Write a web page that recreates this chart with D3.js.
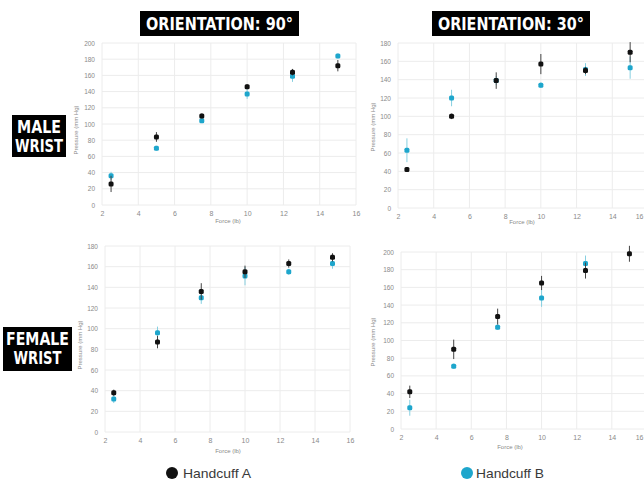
<!DOCTYPE html>
<html>
<head>
<meta charset="utf-8">
<script src="https://cdn.jsdelivr.net/npm/d3@7"></script>
<style>
  html, body { margin: 0; padding: 0; background: #fff; overflow: hidden; }
  svg { display: block; }
  .tick text { font-family: "Liberation Sans", Arial, sans-serif; fill: #8a8a8a; }
</style>
</head>
<body>
<svg id="chart" width="644" height="481"></svg>
<script>
// Applied force levels (lb)
const forces = [2.5, 5, 7.5, 10, 12.5, 15];

// Male wrist, orientation 90°
const male90A = [26, 84, 110, 146, 164, 172];
const male90AErr = [10, 6, 3, 3, 4, 7];
const male90B = [36, 70, 104, 137, 159, 184];
const male90BErr = [5, 3, 2, 6, 7, 3];

// Male wrist, orientation 30°
const male30A = [42, 100, 139, 157, 150, 170];
const male30AErr = [2, 3, 9, 11, 4, 11];
const male30B = [63, 120, 139, 134, 151, 153];
const male30BErr = [13, 9, 5, 3, 7, 12];

// Female wrist, orientation 90°
const female90A = [38, 87, 136, 155, 163, 169];
const female90AErr = [3, 6, 8, 6, 4, 4];
const female90B = [32, 96, 130, 151, 155, 163];
const female90BErr = [4, 6, 6, 9, 3, 5];

// Female wrist, orientation 30°
const female30A = [42, 90, 127, 165, 179, 198];
const female30AErr = [7, 11, 9, 8, 9, 9];
const female30B = [24, 71, 115, 148, 187, null];
const female30BErr = [9, 3, 3, 10, 9, null];

const xTicks = [2, 4, 6, 8, 10, 12, 14, 16];
const yTicks200 = [0, 20, 40, 60, 80, 100, 120, 140, 160, 180, 200];
const yTicks180 = [0, 20, 40, 60, 80, 100, 120, 140, 160, 180];

const columnTitles = ["ORIENTATION: 90°", "ORIENTATION: 30°"];
const rowTitles = [["MALE", "WRIST"], ["FEMALE", "WRIST"]];
const seriesNames = ["Handcuff A", "Handcuff B"];

const colorA = "#111111";
const colorB = "#1ea6cc";
const errA = "#444444";
const errB = "#86cfe0";

const W = 644;
const svg = d3.select("#chart");

const panels = [
  { x0: 102, x1: 356, y0: 205, y1: 43, yMax: 200, yTicks: yTicks200,
    a: male90A, aErr: male90AErr, b: male90B, bErr: male90BErr,
    xTitle: [228, 223], yTitle: [78, 130], yLabel: "Pressure (mm Hg)" },
  { x0: 398, x1: 648, y0: 208, y1: 43, yMax: 180, yTicks: yTicks180,
    a: male30A, aErr: male30AErr, b: male30B, bErr: male30BErr,
    xTitle: [522, 224], yTitle: [375, 127], yLabel: "Pressure (mm Hg)" },
  { x0: 105, x1: 350, y0: 432, y1: 246, yMax: 180, yTicks: yTicks180,
    a: female90A, aErr: female90AErr, b: female90B, bErr: female90BErr,
    xTitle: [228, 453], yTitle: [82, 345], yLabel: "Pressure (mm Hg)" },
  { x0: 401, x1: 647, y0: 429, y1: 252, yMax: 200, yTicks: yTicks200,
    a: female30A, aErr: female30AErr, b: female30B, bErr: female30BErr,
    xTitle: [510, 449], yTitle: [375, 342], yLabel: "Pressure (mm Hg)" }
];

panels.forEach(p => {
  const x = d3.scaleLinear().domain([2, 16]).range([p.x0, p.x1]);
  const y = d3.scaleLinear().domain([0, p.yMax]).range([p.y0, p.y1]);
  const g = svg.append("g");

  // gridlines
  g.append("g").selectAll("line").data(xTicks).join("line")
    .attr("x1", d => x(d)).attr("x2", d => x(d))
    .attr("y1", p.y0).attr("y2", p.y1)
    .attr("stroke", "#ececec").attr("stroke-width", 1);
  g.append("g").selectAll("line").data(p.yTicks).join("line")
    .attr("x1", p.x0).attr("x2", p.x1)
    .attr("y1", d => y(d)).attr("y2", d => y(d))
    .attr("stroke", "#ececec").attr("stroke-width", 1);

  // axes (labels only)
  const xAxis = g.append("g").attr("transform", `translate(0,${p.y0 + 4})`)
    .call(d3.axisBottom(x).tickValues(xTicks).tickSize(0).tickPadding(2));
  xAxis.select(".domain").remove();
  xAxis.selectAll("text").attr("font-size", 7);
  // keep a label that would run past the page edge inside it
  xAxis.selectAll(".tick").each(function (d) {
    if (x(d) + 5 > W) {
      d3.select(this).select("text")
        .attr("text-anchor", "end")
        .attr("x", W - 1 - x(d));
    }
  });

  const yAxis = g.append("g").attr("transform", `translate(${p.x0 - 5},0)`)
    .call(d3.axisLeft(y).tickValues(p.yTicks).tickSize(0).tickPadding(2));
  yAxis.select(".domain").remove();
  yAxis.selectAll("text").attr("font-size", 6.5);

  g.append("text")
    .attr("x", p.xTitle[0]).attr("y", p.xTitle[1])
    .attr("text-anchor", "middle")
    .attr("font-family", "Liberation Sans, Arial, sans-serif")
    .attr("font-size", 6).attr("fill", "#8a8a8a")
    .text("Force (lb)");
  g.append("text")
    .attr("transform", `translate(${p.yTitle[0]},${p.yTitle[1]}) rotate(-90)`)
    .attr("text-anchor", "middle")
    .attr("font-family", "Liberation Sans, Arial, sans-serif")
    .attr("font-size", 6).attr("fill", "#8a8a8a")
    .text(p.yLabel);

  // series: error bars and markers
  const series = [
    { v: p.b, e: p.bErr, c: colorB, ec: errB },
    { v: p.a, e: p.aErr, c: colorA, ec: errA }
  ];
  series.forEach(s => {
    const pts = forces.map((f, i) => ({ f, v: s.v[i], e: s.e[i] }))
      .filter(d => d.v !== null);
    g.append("g").selectAll("line").data(pts).join("line")
      .attr("x1", d => x(d.f)).attr("x2", d => x(d.f))
      .attr("y1", d => y(d.v - d.e)).attr("y2", d => y(d.v + d.e))
      .attr("stroke", s.ec).attr("stroke-width", 1);
    g.append("g").selectAll("rect").data(pts).join("rect")
      .attr("x", d => x(d.f) - 2.5).attr("y", d => y(d.v) - 2.5)
      .attr("width", 5).attr("height", 5).attr("rx", 1.5)
      .attr("fill", s.c);
  });
});

// column headers
const headerBoxes = [[140, 159], [432, 158]];
columnTitles.forEach((t, i) => {
  const [bx, bw] = headerBoxes[i];
  svg.append("rect").attr("x", bx).attr("y", 11).attr("width", bw).attr("height", 25).attr("fill", "#000");
  svg.append("text")
    .attr("x", bx + bw / 2).attr("y", 30)
    .attr("text-anchor", "middle")
    .attr("font-family", "DejaVu Sans Condensed, DejaVu Sans, sans-serif")
    .attr("font-stretch", "condensed")
    .attr("font-weight", "bold").attr("font-size", 17)
    .attr("textLength", bw - 12).attr("lengthAdjust", "spacingAndGlyphs")
    .attr("fill", "#fff").text(t);
});

// row headers
const rowBoxes = [[12, 115, 54, 42], [3, 327, 69, 44]];
const rowLineWidths = [[44, 48], [63, 48]];
rowTitles.forEach((lines, i) => {
  const [bx, by, bw, bh] = rowBoxes[i];
  svg.append("rect").attr("x", bx).attr("y", by).attr("width", bw).attr("height", bh).attr("fill", "#000");
  lines.forEach((ln, j) => {
    svg.append("text")
      .attr("x", bx + bw / 2).attr("y", by + 18 + j * 19)
      .attr("text-anchor", "middle")
      .attr("font-family", "DejaVu Sans Condensed, DejaVu Sans, sans-serif")
      .attr("font-stretch", "condensed")
      .attr("font-weight", "bold").attr("font-size", 17)
      .attr("textLength", rowLineWidths[i][j]).attr("lengthAdjust", "spacingAndGlyphs")
      .attr("fill", "#fff").text(ln);
  });
});

// legend
const legendPos = [[172, 473], [467, 473]];
seriesNames.forEach((n, i) => {
  const [lx, ly] = legendPos[i];
  svg.append("circle").attr("cx", lx).attr("cy", ly).attr("r", 6)
    .attr("fill", i === 0 ? colorA : colorB);
  svg.append("text")
    .attr("x", lx + (i === 0 ? 11 : 9)).attr("y", ly + 5)
    .attr("font-family", "Liberation Sans, Arial, sans-serif")
    .attr("font-size", 13).attr("fill", "#3a3a3a")
    .attr("textLength", 68).attr("lengthAdjust", "spacingAndGlyphs")
    .text(n);
});
</script>
</body>
</html>
